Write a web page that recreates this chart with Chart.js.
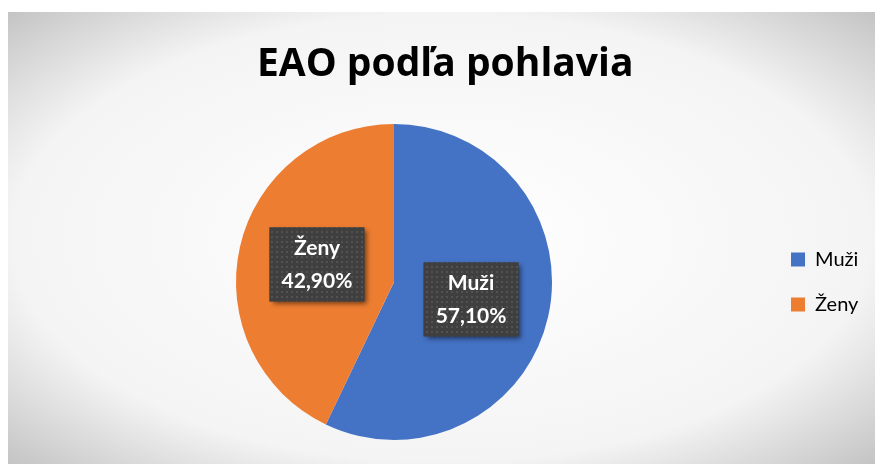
<!DOCTYPE html>
<html lang="sk">
<head>
<meta charset="UTF-8">
<title>EAO podľa pohlavia</title>
<script src="https://cdn.jsdelivr.net/npm/chart.js"></script>
<style>
    body {
        margin: 0;
        background: #ffffff;
        font-family: Lato, sans-serif;
    }
    .frame {
        position: absolute;
        left: 8px;
        top: 12px;
        width: 867px;
        height: 452px;
        background: radial-gradient(ellipse farthest-corner at 50% 50%, #ffffff 0%, #f4f4f4 70%, #c4c4c4 100%);
    }
    .wrap {
        position: absolute;
        left: 0;
        top: 0;
        width: 875px;
        height: 464px;
    }
</style>
</head>
<body>
<div class="frame"></div>
<div class="wrap"><canvas id="pie" width="875" height="464"></canvas></div>
<script>
const categories = ['Muži', 'Ženy'];
const shares = [57.1, 42.9];
const sliceColors = ['#4472C4', '#ED7D31'];

function pct(v) {
    return v.toFixed(2).replace('.', ',') + '%';
}

// dotted texture used by the label boxes
function dotPattern(ctx) {
    const c = document.createElement('canvas');
    c.width = 5;
    c.height = 5;
    const g = c.getContext('2d');
    g.fillStyle = '#3f3f3f';
    g.fillRect(0, 0, 5, 5);
    g.fillStyle = '#525252';
    g.fillRect(1, 1, 2, 2);
    return ctx.createPattern(c, 'repeat');
}

const boxLabels = {
    id: 'boxLabels',
    afterDatasetsDraw(chart) {
        const ctx = chart.ctx;
        const meta = chart.getDatasetMeta(0);
        const pattern = dotPattern(ctx);
        ctx.save();
        ctx.font = 'bold 21px Lato, sans-serif';
        meta.data.forEach((arc, i) => {
            const p = arc.getCenterPoint();
            const lines = [categories[i], pct(shares[i])];
            const w = Math.max(...lines.map(t => ctx.measureText(t).width)) + 24;
            const h = 74;
            const x = p.x - w / 2;
            const y = p.y - h / 2;
            ctx.save();
            ctx.shadowColor = 'rgba(0,0,0,0.55)';
            ctx.shadowBlur = 5;
            ctx.shadowOffsetX = 3;
            ctx.shadowOffsetY = 3;
            ctx.fillStyle = '#3f3f3f';
            ctx.fillRect(x, y, w, h);
            ctx.restore();
            ctx.fillStyle = pattern;
            ctx.fillRect(x, y, w, h);
            ctx.fillStyle = '#ffffff';
            ctx.textAlign = 'center';
            ctx.textBaseline = 'middle';
            ctx.fillText(lines[0], p.x, p.y - 16);
            ctx.fillText(lines[1], p.x, p.y + 17);
        });
        ctx.restore();
    }
};

new Chart(document.getElementById('pie'), {
    type: 'pie',
    data: {
        labels: categories,
        datasets: [{
            data: shares,
            backgroundColor: sliceColors,
            borderWidth: 0,
            hoverOffset: 0,
            radius: 158
        }]
    },
    options: {
        responsive: false,
        animation: false,
        layout: {
            padding: { left: 22, right: 6.6, top: 0, bottom: 24 }
        },
        plugins: {
            title: {
                display: true,
                text: 'EAO podľa pohlavia',
                color: '#000000',
                font: { family: 'Open Sans', size: 39, weight: 'bold', lineHeight: 1.2 },
                padding: { top: 41, bottom: 36 }
            },
            legend: {
                position: 'right',
                fullSize: false,
                labels: {
                    color: '#000000',
                    font: { family: 'Lato', size: 20 },
                    boxWidth: 14,
                    boxHeight: 14,
                    padding: 25
                }
            },
            tooltip: { enabled: false }
        }
    },
    plugins: [boxLabels]
});
</script>
</body>
</html>
